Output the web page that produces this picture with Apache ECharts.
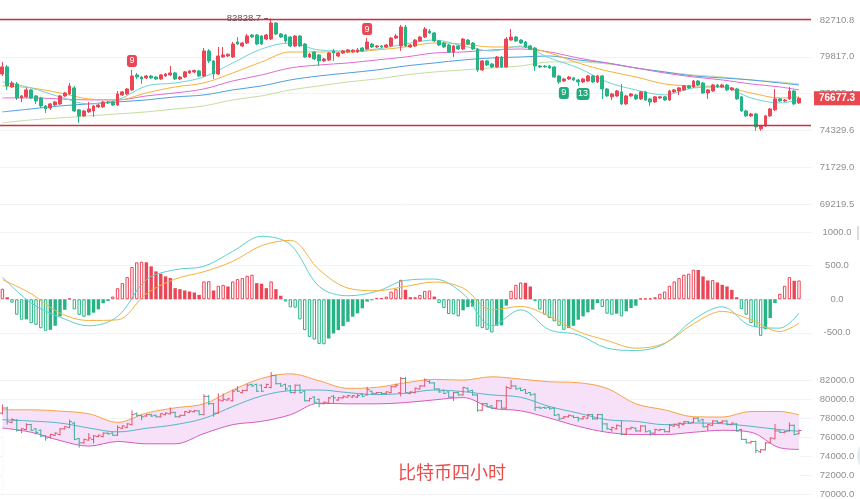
<!DOCTYPE html>
<html>
<head>
<meta charset="utf-8">
<script src="https://cdn.jsdelivr.net/npm/echarts@6/dist/echarts.min.js"></script>
<style>
  html, body { margin: 0; padding: 0; background: #fff; }
  #chart { width: 860px; height: 499px; }
</style>
</head>
<body>
<div id="chart"></div>
<script>
// 4h candles: [open, close, low, high]
const candles = [
  [78500, 79040, 78350, 79420], [79040, 77600, 77300, 79190], [77520, 77820, 77450, 77970], [77750, 76700, 76550, 77900],
  [76700, 76850, 76400, 76920], [76780, 77300, 76700, 77450], [77300, 76700, 76630, 77370], [76850, 76480, 76260, 76920],
  [76700, 76110, 75960, 76780], [76110, 75890, 75600, 76180], [75960, 76260, 75820, 76330], [76180, 76400, 76110, 76480],
  [76260, 76850, 76180, 76920], [76850, 77070, 76780, 77150], [77000, 77600, 76920, 77820], [77450, 75740, 75670, 77600],
  [75820, 75380, 74870, 75890], [75380, 75740, 75310, 75820], [75670, 75890, 75600, 76400], [75740, 76110, 75310, 76180],
  [76040, 76180, 75960, 76260], [76040, 76400, 75960, 76480], [76400, 76330, 76260, 76480], [76400, 76180, 76110, 76480],
  [76180, 77000, 76110, 77220], [76920, 77150, 76850, 77220], [77000, 77370, 76920, 77450], [77300, 78350, 77220, 78810],
  [78430, 78270, 78120, 78580], [78270, 78120, 77750, 78350], [78200, 78350, 78120, 78430], [78350, 78200, 78120, 78430],
  [78270, 78120, 78050, 78350], [78120, 78430, 78050, 78500], [78350, 78500, 78270, 78580], [78430, 78580, 78350, 79110],
  [78580, 78120, 78050, 78660], [78120, 78270, 78050, 78350], [78270, 78660, 78200, 78730], [78580, 78730, 78500, 78810],
  [78650, 78760, 78580, 78840], [78730, 78350, 78270, 78810], [78350, 80270, 78270, 80500], [80270, 79500, 79340, 80420],
  [79500, 78500, 78120, 79570], [78500, 79880, 78430, 80580], [79800, 79960, 79730, 80580], [79880, 80010, 79800, 80080],
  [79800, 80810, 79730, 80970], [80970, 80810, 80730, 81360], [80660, 80890, 80580, 80970], [80890, 81440, 80810, 81600],
  [81520, 81360, 81280, 81600], [81520, 80810, 80730, 81600], [81440, 80810, 80730, 81520], [81200, 81520, 81120, 81600],
  [81200, 82470, 81120, 82828.7], [82470, 81600, 81520, 82550], [81600, 81360, 81280, 81680], [81520, 81050, 80890, 81600],
  [81360, 80660, 80580, 81440], [80660, 81440, 80580, 81520], [81440, 80660, 80580, 81520], [80810, 79800, 79730, 80890],
  [79800, 80030, 79730, 80110], [80190, 79650, 79570, 80270], [79960, 79500, 79110, 80030], [79500, 79650, 79420, 79730],
  [79570, 80110, 79500, 80190], [80270, 80110, 79500, 80420], [79880, 80110, 79800, 80190], [80110, 80270, 80030, 80350],
  [80190, 80350, 80110, 80420], [80200, 80330, 80120, 80410], [80190, 80350, 80110, 80500], [80500, 80270, 80190, 80580],
  [80420, 80970, 80350, 81280], [80810, 80580, 80500, 80890], [80580, 80660, 80500, 80730], [80660, 80580, 80500, 80730],
  [80580, 80730, 80500, 80810], [80660, 81280, 80580, 81360], [81280, 81440, 81200, 81600], [80660, 82150, 80270, 82310],
  [82150, 80660, 80580, 82310], [80580, 80730, 80500, 80810], [80660, 81120, 80580, 81200], [81050, 81360, 80970, 81440],
  [81360, 81990, 81280, 82150], [81830, 81680, 81600, 81990], [81680, 81050, 80970, 81750], [81050, 80730, 80660, 81120],
  [80890, 80580, 80500, 80970], [80730, 80190, 80110, 80810], [80190, 80660, 79800, 80730], [80660, 80420, 80350, 80730],
  [80420, 81200, 80350, 81280], [81120, 80810, 80730, 81200], [80890, 80420, 80350, 80970], [80420, 78810, 78660, 80500],
  [78810, 79500, 78730, 79570], [79500, 79190, 79110, 79570], [79260, 79030, 78960, 79340], [79030, 79800, 78960, 79880],
  [79800, 79030, 78960, 79880], [79030, 81200, 78960, 81360], [81120, 81360, 81050, 81990], [81360, 81050, 80970, 81440],
  [81120, 80890, 80810, 81200], [80970, 80580, 80500, 81050], [80660, 80420, 80350, 80730], [80500, 79110, 78730, 80580],
  [79110, 79030, 78960, 79190], [79100, 79040, 78970, 79180], [79110, 78960, 78880, 79190], [79030, 78270, 78200, 79110],
  [78350, 77900, 77750, 78430], [77970, 78120, 77900, 78200], [78120, 78270, 78050, 78350], [78200, 78050, 77970, 78270],
  [78050, 77900, 77600, 78120], [77900, 78120, 77820, 78200], [77970, 78350, 77900, 78430], [78350, 77900, 77820, 78430],
  [77900, 78350, 77820, 78430], [78350, 77370, 76630, 78430], [77370, 76850, 76780, 77450], [76780, 77000, 76550, 77070],
  [76850, 77220, 76780, 77300], [77150, 76260, 76180, 77750], [76260, 76850, 76180, 76920], [76850, 77000, 76780, 77070],
  [76920, 76630, 76550, 77000], [76630, 77150, 76550, 77220], [77150, 76550, 76480, 77220], [76630, 76400, 76110, 76700],
  [76400, 76780, 76330, 76850], [76700, 76780, 76630, 76850], [76780, 76550, 76480, 76850], [76550, 77220, 76480, 77300],
  [77150, 77300, 77070, 77370], [77220, 77450, 76920, 77520], [77300, 77600, 77220, 77670], [77600, 77450, 77370, 77670],
  [77520, 77970, 77450, 78050], [77970, 77670, 77600, 78050], [77820, 77070, 77000, 77900], [77070, 77300, 76630, 77370],
  [77220, 77670, 77150, 77750], [77670, 77520, 77450, 77750], [77520, 77670, 77450, 77750], [77670, 77300, 77220, 77750],
  [77300, 77450, 77220, 77520], [77370, 76630, 76550, 77450], [76780, 75740, 75670, 76850], [75740, 75380, 75310, 75820],
  [75380, 75520, 75310, 75600], [75520, 74580, 74300, 75600], [74440, 74650, 74300, 74730], [74650, 75380, 74580, 75450],
  [75380, 75890, 75310, 75960], [75820, 76630, 75740, 77370], [76630, 76480, 76400, 76700], [76480, 76550, 76400, 76630],
  [76630, 77220, 76550, 77520], [77220, 76260, 76180, 77300], [76330, 76677.3, 76260, 76780],
]

const macdHist = [
  157, 30, -50, -230, -305, -300, -357, -380, -432, -470, -455, -395, -255, -157, 10, -150,
  -232, -260, -240, -200, -150, -60, -25, 40, 165, 240, 330, 480, 550, 560, 550, 490,
  415, 380, 340, 315, 165, 150, 130, 115, 100, 65, 265, 270, 130, 200, 215, 190,
  265, 300, 315, 350, 365, 240, 232, 165, 265, 150, 52, -35, -120, -125, -300, -460,
  -560, -600, -665, -670, -585, -510, -460, -400, -335, -260, -210, -135, -35, -15, 20, 20,
  40, 115, 150, 290, 140, 30, 30, 65, 125, 130, 40, -57, -130, -220, -225, -255,
  -165, -115, -110, -405, -430, -455, -495, -395, -390, -95, 125, 215, 250, 245, 190, -30,
  -155, -230, -280, -330, -395, -455, -430, -395, -305, -255, -195, -155, -57, -115, -215, -230,
  -215, -255, -180, -130, -95, 10, 10, 12, 30, 80, 115, 200, 265, 315, 365, 380,
  440, 435, 340, 280, 285, 250, 215, 190, 140, 30, -147, -230, -355, -415, -545, -445,
  -280, -57, 80, 200, 330, 275, 280,
]

// indicator lines read every 6 candles
const lineIdx = [0, 6, 12, 18, 24, 30, 36, 42, 48, 54, 60, 66, 72, 78, 84, 90, 96, 102, 108, 114, 120, 126, 132, 138, 144, 150, 156, 162, 166]
const ma5 = [77898, 77447, 76776, 76258, 76554, 77597, 77822, 78275, 79341, 80422, 80890, 80345, 80267, 80422, 80812, 81125, 80656, 80267, 80656, 79726, 78959, 77898, 77297, 76924, 77447, 77522, 76702, 76332, 76554]
const ma10 = [77597, 77447, 77073, 76628, 76554, 77073, 77522, 77822, 78578, 79418, 80190, 80190, 80190, 80345, 80578, 80890, 80812, 80578, 80578, 80112, 79341, 78730, 78275, 77747, 77597, 77522, 77073, 76702, 76776]
const ma20 = [76702, 76702, 76628, 76554, 76554, 76850, 77073, 77372, 77973, 78427, 78959, 79188, 79341, 79572, 79803, 80112, 80190, 80345, 80422, 80190, 79726, 79341, 78959, 78578, 78275, 78048, 77747, 77522, 77297]
const ma30 = [75671, 75890, 76111, 76258, 76406, 76554, 76776, 76924, 77297, 77597, 78048, 78351, 78578, 78806, 79112, 79341, 79572, 79726, 79803, 79880, 79572, 79341, 78959, 78654, 78351, 78200, 78048, 77822, 77672]
const ma60 = [74871, 75088, 75233, 75378, 75524, 75671, 75890, 76111, 76554, 76850, 77297, 77597, 77898, 78124, 78427, 78654, 78806, 78959, 79112, 79418, 79418, 79265, 78959, 78654, 78427, 78275, 78048, 77898, 77747]
const dif = [330, -57, -266, -395, -256, 291, 440, 490, 713, 937, 813, 191, 52, 117, 281, 301, 82, -395, -157, -455, -529, -728, -763, -663, -306, -112, -395, -430, -206]
const dea = [291, 82, -206, -316, -306, 82, 301, 410, 564, 798, 877, 440, 166, 127, 191, 256, 166, -157, -107, -256, -480, -614, -728, -654, -365, -181, -306, -480, -356]
const bollUp = [78854, 78854, 78715, 78437, 77535, 78507, 79062, 79479, 80937, 82152, 82639, 81909, 81111, 81215, 81701, 82048, 81979, 82326, 82083, 81805, 81701, 81111, 79479, 78854, 78125, 78090, 78680, 78680, 78333]
const bollMid = [77812, 77673, 77465, 76944, 76528, 76910, 77292, 77951, 79201, 80312, 80868, 80937, 80660, 80451, 80590, 80937, 80764, 80416, 80173, 79201, 78507, 77812, 77639, 77292, 77465, 77396, 77118, 76771, 76597]
const bollLow = [76944, 76493, 75625, 75035, 75521, 75278, 75278, 76354, 77292, 77639, 78333, 79548, 79479, 79479, 79618, 79896, 80139, 79028, 78750, 77986, 77118, 76493, 76250, 76250, 76493, 76701, 76493, 74861, 74688]

const priceTicks = [82710.8, 79817.0, 77025.4, 74329.6, 71729.0, 69219.5]
const macdTicks = [1000, 500, 0, -500]
const bollTicks = [82000, 80000, 78000, 76000, 74000, 72000, 70000]
const levelLines = [82760, 74720]
// TD sequence counts: candle index, text, above(up) / below(down)
const seqMarks = [
  { at: 27, text: '9', side: 'up' },
  { at: 76, text: '9', side: 'up' },
  { at: 117, text: '9', side: 'down' },
  { at: 121, text: '13', side: 'down' },
]
const highAt = 56
const slotCount = 169
const title = '比特币四小时'

const UP = '#ea4656'
const DOWN = '#26b385'
const LEVEL = '#cc3048'
const AXIS_TEXT = '#8f8f8f'
const FONT = 'Liberation Sans, Arial, sans-serif'

const cats = Array.from({ length: slotCount }, (_, i) => String(i))
const lastClose = candles[candles.length - 1][1]
const pairs = (vals) => lineIdx.map((x, k) => [x, vals[k]])

const yLabel = (ticks) => ({
  customValues: ticks,
  formatter: v => Number(v).toFixed(1),
  color: AXIS_TEXT,
  fontSize: 9.5,
  fontFamily: FONT,
  align: 'center',
  margin: 26,
})

const yAxisOf = (gridIndex, ticks, extra) => Object.assign({
  gridIndex,
  position: 'right',
  scale: true,
  axisLine: { show: false },
  axisTick: { show: false, customValues: ticks },
  axisLabel: yLabel(ticks),
  splitLine: { show: true, lineStyle: { color: '#f3f3f3', width: 1 } },
}, extra)

const lineSeries = (name, vals, color, xi, extra) => Object.assign({
  name,
  type: 'line',
  xAxisIndex: xi,
  yAxisIndex: xi,
  data: pairs(vals),
  smooth: 0.35,
  showSymbol: false,
  silent: true,
  z: 3,
  itemStyle: { color },
  lineStyle: { color, width: 1 },
}, extra)

const macdData = macdHist.map((v, i) => {
  const prev = i > 0 ? macdHist[i - 1] : 0
  const color = v >= 0 ? UP : DOWN
  const hollow = v >= 0 ? v >= prev : v <= prev
  return {
    value: v,
    itemStyle: hollow ? { color: '#fff', borderColor: color, borderWidth: 1 } : { color },
  }
})

const seqPoints = seqMarks.map((m) => {
  const up = m.side === 'up'
  const c = up ? UP : '#23a97c'
  return {
    coord: [m.at, up ? candles[m.at][3] : candles[m.at][2]],
    symbol: 'roundRect',
    symbolSize: [m.text.length > 1 ? 13 : 10, 12],
    symbolOffset: [0, up ? -9 : 11],
    itemStyle: { color: c },
    label: { show: true, position: 'inside', formatter: m.text, color: '#fff', fontSize: 9, fontFamily: FONT },
  }
})

const chart = echarts.init(document.getElementById('chart'), null, { renderer: 'canvas' })

chart.setOption({
  animation: false,
  backgroundColor: '#fff',
  title: {
    text: title,
    left: 393,
    top: 458,
    textStyle: { color: '#ec4c4c', fontSize: 18, fontWeight: 'normal', fontFamily: 'Noto Sans CJK SC' },
  },
  grid: [
    { left: 0, right: 49, top: 2, height: 216 },
    { left: 0, right: 49, top: 222, height: 133 },
    { left: 0, right: 49, top: 366, height: 129 },
  ],
  xAxis: [0, 1, 2].map(g => ({
    type: 'category',
    gridIndex: g,
    data: cats,
    show: false,
  })),
  yAxis: [
    yAxisOf(0, priceTicks, { type: 'log', min: 68286, max: 84164 }),
    yAxisOf(1, macdTicks, { type: 'value', min: -830, max: 1150 }),
    yAxisOf(2, bollTicks, { type: 'value', min: 70000, max: 83460 }),
  ],
  series: [
    lineSeries('MA60', ma60, '#c6dea0', 0),
    lineSeries('MA30', ma30, '#4f9fe0', 0),
    lineSeries('MA20', ma20, '#e16cd0', 0),
    lineSeries('MA10', ma10, '#f5b23a', 0),
    lineSeries('MA5', ma5, '#6fd4d2', 0),
    {
      name: 'K',
      type: 'candlestick',
      xAxisIndex: 0,
      yAxisIndex: 0,
      data: candles,
      barWidth: 3.3,
      z: 4,
      itemStyle: { color: UP, color0: DOWN, borderColor: UP, borderColor0: DOWN, borderWidth: 1 },
      markPoint: {
        silent: true,
        data: [{
          coord: [highAt, candles[highAt][3]],
          symbol: 'rect',
          symbolSize: [4, 1],
          symbolOffset: [-5, 0],
          itemStyle: { color: '#666' },
          label: {
            show: true,
            position: 'left',
            distance: 3,
            formatter: candles[highAt][3].toFixed(1),
            color: '#555',
            fontSize: 9.5,
            fontFamily: FONT,
          },
        }].concat(seqPoints),
      },
    },
    {
      name: 'MACD',
      type: 'bar',
      xAxisIndex: 1,
      yAxisIndex: 1,
      data: macdData,
      barWidth: 3.4,
      silent: true,
    },
    lineSeries('DIF', dif, '#5ccfcf', 1),
    lineSeries('DEA', dea, '#f5b23e', 1),
    lineSeries('BOLL-UP-FILL', bollUp, 'rgba(0,0,0,0)', 2, {
      z: 1,
      areaStyle: { color: '#f6e1f8', opacity: 1, origin: 'start' },
      lineStyle: { width: 0 },
    }),
    lineSeries('BOLL-LOW-FILL', bollLow, 'rgba(0,0,0,0)', 2, {
      z: 1,
      areaStyle: { color: '#fff', opacity: 1, origin: 'start' },
      lineStyle: { width: 0 },
    }),
    lineSeries('UP', bollUp, '#f6a445', 2),
    lineSeries('MID', bollMid, '#55b5c8', 2),
    lineSeries('LOW', bollLow, '#d65cc0', 2),
    {
      name: 'OHLC',
      type: 'custom',
      xAxisIndex: 2,
      yAxisIndex: 2,
      silent: true,
      z: 5,
      clip: false,
      data: candles.map((d, i) => [i, d[0], d[1], d[2], d[3]]),
      encode: { x: 0, y: [1, 2, 3, 4] },
      renderItem(params, api) {
        const i = api.value(0)
        const open = api.value(1)
        const close = api.value(2)
        const pH = api.coord([i, api.value(4)])
        const pL = api.coord([i, api.value(3)])
        const pO = api.coord([i, open])
        const pC = api.coord([i, close])
        const half = api.size([1, 0])[0] / 2
        const style = { stroke: close >= open ? '#e0566e' : '#3aae9c', lineWidth: 1, fill: null }
        return {
          type: 'group',
          children: [
            { type: 'line', shape: { x1: pH[0], y1: pH[1], x2: pL[0], y2: pL[1] }, style },
            { type: 'line', shape: { x1: pO[0] - half, y1: pO[1], x2: pO[0], y2: pO[1] }, style },
            { type: 'line', shape: { x1: pC[0], y1: pC[1], x2: pC[0] + half, y2: pC[1] }, style },
          ],
        }
      },
    },
  ],
})

// level lines and last-price tag, placed through the price axis scale
const gridRight = chart.getWidth() - 49
const levelGraphics = levelLines.map((v) => {
  const y = Math.round(chart.convertToPixel({ yAxisIndex: 0 }, v)) + 0.5
  return {
    type: 'line',
    z: 6,
    silent: true,
    shape: { x1: 0, y1: y, x2: gridRight, y2: y },
    style: { stroke: LEVEL, lineWidth: 1.3 },
  }
})
const tagY = chart.convertToPixel({ yAxisIndex: 0 }, lastClose)
chart.setOption({
  graphic: levelGraphics.concat([
    { type: 'rect', shape: { x: 857, y: 226, width: 2, height: 14 }, style: { fill: '#dcdcdc' } },
    { type: 'circle', shape: { cx: 874, cy: 456, r: 17 }, style: { fill: '#e6ebf0' } },
    {
      type: 'text',
      x: gridRight + 3,
      y: tagY,
      z: 10,
      style: {
        text: lastClose.toFixed(1),
        fill: '#fff',
        font: 'bold 10px ' + FONT,
        verticalAlign: 'middle',
        backgroundColor: '#e8474f',
        padding: [2, 5],
      },
    },
  ]),
})
</script>
